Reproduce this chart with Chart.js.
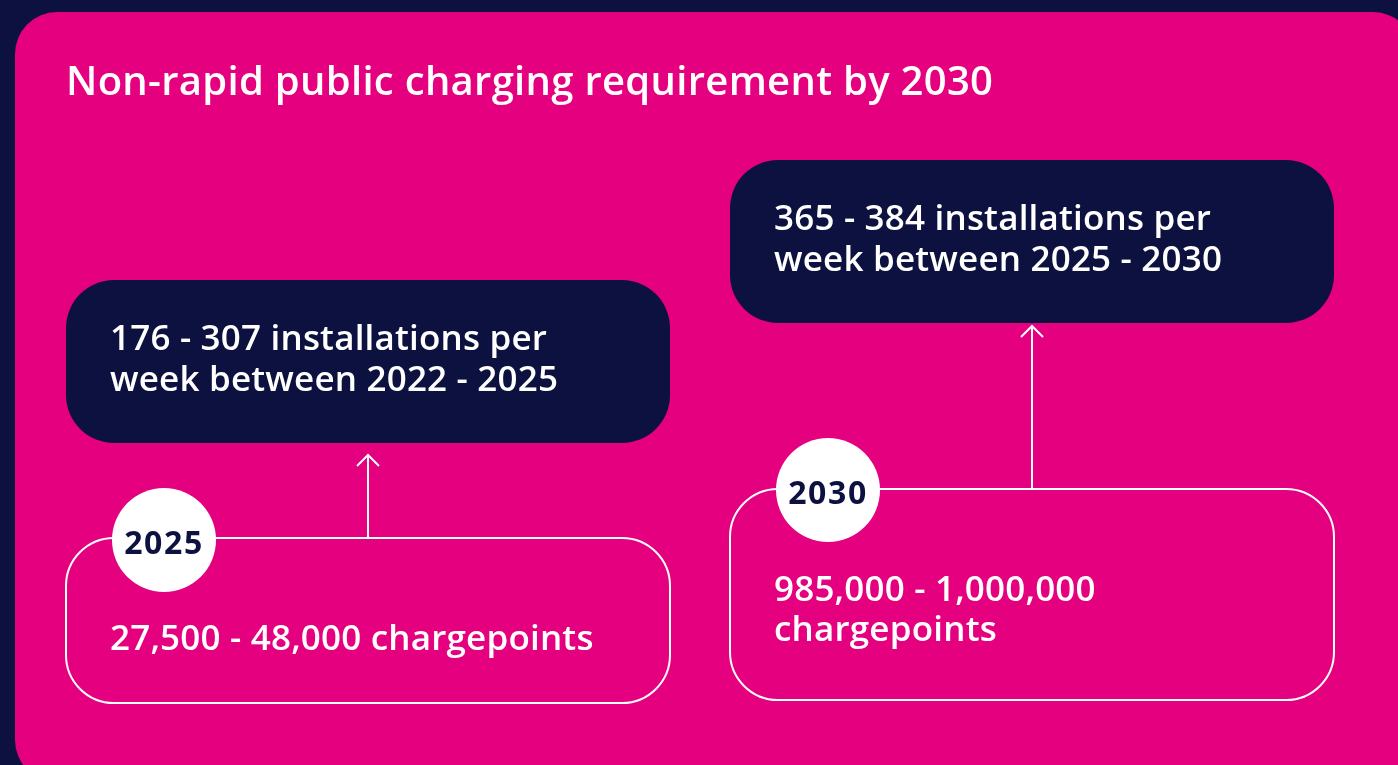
<!DOCTYPE html>
<html>
<head>
<meta charset="utf-8">
<script src="https://cdn.jsdelivr.net/npm/chart.js@4"></script>
<style>
  html, body { margin: 0; padding: 0; background: #0d1140; }
  canvas { display: block; }
</style>
</head>
<body>
<canvas id="chart" width="1398" height="765"></canvas>
<script>
/* Non-rapid public charging requirement by 2030 */
const title = 'Non-rapid public charging requirement by 2030';
const years = ['2025', '2030'];
const chargepointLow = [27500, 985000];
const chargepointHigh = [48000, 1000000];
const installLow = [176, 365];
const installHigh = [307, 384];
const installPeriods = ['2022 - 2025', '2025 - 2030'];

const PINK = '#e4007e';
const NAVY = '#0d1140';
const FONT = '"Open Sans", Lato, sans-serif';

// text styles: size plus a sample string and the width it spans in the reference
const styles = {
  title: { font: '600 40px ' + FONT, sample: title, width: 927 },
  body: { font: '600 35px ' + FONT, sample: 'week between 2022 - 2025', width: 448 },
  badge: { font: '700 32px ' + FONT, sample: '2025', width: 78 }
};

// per column card placement (offsets from the column centre given by the x scale)
const cards = [
  { topBox: [280, 443], bottomBox: [538, 703], badgeY: 540, arrowTip: 455, topText: 350, bottomText: 650, wrap: false },
  { topBox: [160, 323], bottomBox: [489, 700], badgeY: 490, arrowTip: 326, topText: 230, bottomText: 601, wrap: true }
];

const fmt = n => n.toLocaleString('en-US');

function setStyle(ctx, s) {
  ctx.letterSpacing = '0px';
  ctx.font = s.font;
  if (s.spacing === undefined) {
    const w = ctx.measureText(s.sample).width;
    s.spacing = (s.width - w) / (s.sample.length - 1);
  }
  ctx.letterSpacing = s.spacing.toFixed(2) + 'px';
}

function roundBox(ctx, x, y, w, h, r) {
  ctx.beginPath();
  ctx.roundRect(x, y, w, h, r);
}

const cardsPlugin = {
  id: 'cards',
  beforeDraw(chart) {
    const ctx = chart.ctx;
    ctx.save();
    ctx.fillStyle = NAVY;
    ctx.fillRect(0, 0, chart.width, chart.height);
    ctx.fillStyle = PINK;
    roundBox(ctx, 15, 12, 1400, 770, 42);
    ctx.fill();

    ctx.fillStyle = '#ffffff';
    setStyle(ctx, styles.title);
    ctx.textBaseline = 'alphabetic';
    ctx.fillText(title, 66, 95);
    ctx.restore();
  },
  afterDatasetsDraw(chart) {
    const ctx = chart.ctx;
    const x = chart.scales.x;
    ctx.save();
    years.forEach((yr, i) => {
      const c = cards[i];
      const cx = x.getPixelForValue(i);
      const half = 302;
      const left = cx - half;
      const textX = left + 44;

      // top (navy) card
      ctx.fillStyle = NAVY;
      roundBox(ctx, left, c.topBox[0], half * 2, c.topBox[1] - c.topBox[0], 48);
      ctx.fill();
      ctx.fillStyle = '#ffffff';
      setStyle(ctx, styles.body);
      ctx.textAlign = 'left';
      ctx.fillText(installLow[i] + ' - ' + installHigh[i] + ' installations per', textX, c.topText);
      ctx.fillText('week between ' + installPeriods[i], textX, c.topText + 41);

      // bottom (outlined) card
      ctx.strokeStyle = '#ffffff';
      ctx.lineWidth = 2;
      roundBox(ctx, left, c.bottomBox[0], half * 2, c.bottomBox[1] - c.bottomBox[0], 48);
      ctx.stroke();

      // arrow from bottom card up to top card
      ctx.beginPath();
      ctx.moveTo(cx, c.bottomBox[0]);
      ctx.lineTo(cx, c.arrowTip);
      ctx.moveTo(cx - 11, c.arrowTip + 11);
      ctx.lineTo(cx, c.arrowTip);
      ctx.lineTo(cx + 11, c.arrowTip + 11);
      ctx.stroke();

      // chargepoint text
      ctx.fillStyle = '#ffffff';
      const cp = fmt(chargepointLow[i]) + ' - ' + fmt(chargepointHigh[i]);
      if (c.wrap) {
        ctx.fillText(cp, textX, c.bottomText);
        ctx.fillText('chargepoints', textX, c.bottomText + 40);
      } else {
        ctx.fillText(cp + ' chargepoints', textX, c.bottomText);
      }

      // year badge
      const bx = left + 98;
      ctx.fillStyle = '#ffffff';
      ctx.beginPath();
      ctx.arc(bx, c.badgeY, 52, 0, Math.PI * 2);
      ctx.fill();
      ctx.fillStyle = NAVY;
      setStyle(ctx, styles.badge);
      ctx.textAlign = 'center';
      ctx.fillText(yr, bx, c.badgeY + 14);
    });
    ctx.restore();
  }
};

new Chart(document.getElementById('chart'), {
  type: 'line',
  data: {
    labels: years,
    datasets: [{ label: 'cards', data: years.map(() => null), showLine: false, pointRadius: 0 }]
  },
  options: {
    responsive: false,
    animation: false,
    layout: { padding: { left: 36, right: 34, top: 0, bottom: 0 } },
    plugins: { legend: { display: false }, tooltip: { enabled: false } },
    scales: {
      x: { display: false, offset: true },
      y: { display: false, min: 0, max: 1 }
    }
  },
  plugins: [cardsPlugin]
});
</script>
</body>
</html>
